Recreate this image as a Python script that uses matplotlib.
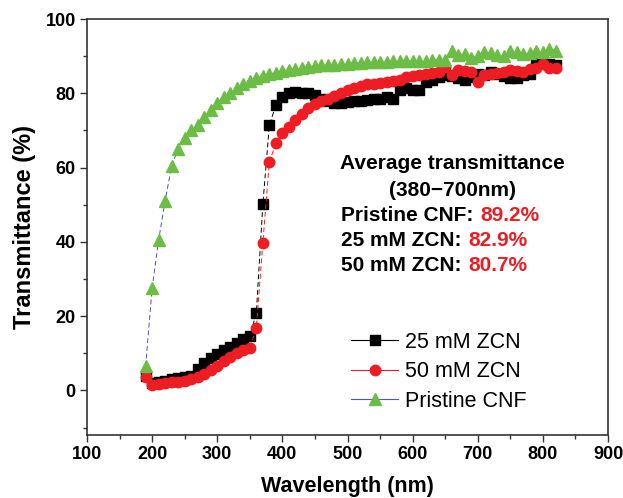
import numpy as np
import matplotlib
matplotlib.use('Agg')
import matplotlib.pyplot as plt
from matplotlib.lines import Line2D
from matplotlib.ticker import MultipleLocator

plt.rcParams['font.family'] = ['Liberation Sans', 'DejaVu Sans']

# wavelength grid (nm), 10 nm steps
wl = list(range(190, 830, 10))

zcn25 = [4.0, 2.0, 2.2, 2.6, 3.0, 3.3, 3.5, 4.0, 5.7, 7.4,
         8.7, 9.9, 10.8, 11.7, 12.8, 13.9, 14.6, 20.8, 50.1, 71.4,
         76.8, 79.0, 80.0, 80.3, 80.2, 80.0, 79.5, 78.5, 77.8, 77.4,
         77.3, 77.6, 77.8, 78.0, 78.2, 78.4, 78.6, 79.1, 78.6, 80.9,
         81.3, 80.9, 80.9, 83.1, 83.6, 84.5, 85.0, 84.6, 84.0, 83.6,
         84.5, 85.3, 85.0, 85.8, 85.2, 84.6, 84.0, 84.0, 85.0, 85.3,
         88.5, 88.5, 88.0, 87.5][:len(wl)]

zcn50 = [3.5, 1.5, 1.6, 1.9, 2.2, 2.4, 2.6, 3.0, 3.5, 4.3,
         5.5, 6.7, 7.9, 9.0, 10.0, 11.0, 11.5, 16.7, 39.7, 61.5,
         66.5, 69.2, 71.0, 72.8, 74.3, 76.0, 77.2, 78.0, 78.6, 79.2,
         80.0, 80.9, 81.5, 82.0, 82.4, 82.6, 82.8, 83.1, 83.3, 83.6,
         84.3, 84.6, 84.9, 85.2, 85.5, 85.8, 87.2, 84.9, 86.3, 86.0,
         85.8, 83.1, 84.9, 85.2, 85.5, 85.8, 86.3, 86.0, 85.8, 86.5,
         86.7, 88.0, 86.7, 86.7][:len(wl)]

cnf = [6.5, 27.5, 40.5, 51.0, 60.5, 65.0, 68.0, 70.0, 71.5, 73.5,
       75.5, 77.5, 79.0, 80.2, 81.3, 82.4, 83.3, 84.0, 84.7, 85.2,
       85.6, 86.0, 86.3, 86.6, 86.9, 87.1, 87.3, 87.5, 87.6, 87.7,
       87.8, 88.0, 88.1, 88.2, 88.3, 88.4, 88.5, 88.5, 88.6, 88.6,
       88.7, 88.7, 88.8, 88.8, 88.9, 89.0, 89.0, 91.4, 90.3, 90.6,
       89.5, 90.0, 91.2, 90.8, 90.4, 90.0, 91.5, 91.0, 90.5, 90.8,
       91.3, 91.0, 92.0, 91.5][:len(wl)]

black = '#000000'
red = '#EE1D23'
green = '#6CBD45'
blue = '#4F55C0'

fig = plt.figure(figsize=(6.23, 4.98), dpi=100)
ax = fig.add_axes([0.1396, 0.1265, 0.8364, 0.8353])

dash = (0, (5, 3))
ax.plot(wl, zcn25, color=black, lw=0.7, ls=dash, marker='s', ms=7,
        mfc=black, mec=black)
ax.plot(wl, zcn50, color=red, lw=0.7, ls=dash, marker='o', ms=7.5,
        mfc=red, mec=red)
ax.plot(wl, cnf, color=blue, lw=0.7, ls=dash, marker='^', ms=8.5,
        mfc=green, mec=green)

ax.set_xlim(100, 900)
ax.set_ylim(-12, 100)
ax.xaxis.set_major_locator(MultipleLocator(100))
ax.xaxis.set_minor_locator(MultipleLocator(50))
ax.yaxis.set_major_locator(MultipleLocator(20))
ax.yaxis.set_minor_locator(MultipleLocator(10))
ax.tick_params(which='both', direction='out', top=False, right=False,
               width=1.0, color='#333333')
ax.tick_params(which='major', length=5, labelsize=13, pad=3)
ax.tick_params(which='minor', length=3)
for lab in ax.get_xticklabels() + ax.get_yticklabels():
    lab.set_fontweight('bold')
for sp in ax.spines.values():
    sp.set_linewidth(1.2)
    sp.set_color('#333333')

ax.set_xlabel('Wavelength (nm)', fontsize=15.5, fontweight='bold', labelpad=9)
ax.set_ylabel('Transmittance (%)', fontsize=17, fontweight='bold', labelpad=7)

# annotation block
ax.text(661, 61.2, 'Average transmittance', fontsize=15, fontweight='bold',
        ha='center', va='center')
ax.text(661, 53.9, '(380\u2212700nm)', fontsize=15, fontweight='bold',
        ha='center', va='center')
rows = [('Pristine CNF:', '89.2%', 47.2, 704),
        ('25 mM ZCN:', '82.9%', 40.4, 686),
        ('50 mM ZCN:', '80.7%', 33.7, 686)]
for name, val, y, xv in rows:
    ax.text(490, y, name, fontsize=15, fontweight='bold', ha='left', va='center')
    ax.text(xv, y, val, fontsize=15, fontweight='bold', color=red,
            ha='left', va='center')

handles = [
    Line2D([], [], color=black, lw=0.8, marker='s', ms=7, mfc=black, mec=black),
    Line2D([], [], color=red, lw=0.8, marker='o', ms=7.5, mfc=red, mec=red),
    Line2D([], [], color=blue, lw=0.8, marker='^', ms=8.5, mfc=green, mec=green),
]
ax.legend(handles, ['25 mM ZCN', '50 mM ZCN', 'Pristine CNF'],
          loc='lower left', bbox_to_anchor=(0.49, 0.035), frameon=False,
          fontsize=15.5, handlelength=2.2, handletextpad=0.33,
          labelspacing=0.4, borderaxespad=0)

fig.savefig('out.png', dpi=100)
